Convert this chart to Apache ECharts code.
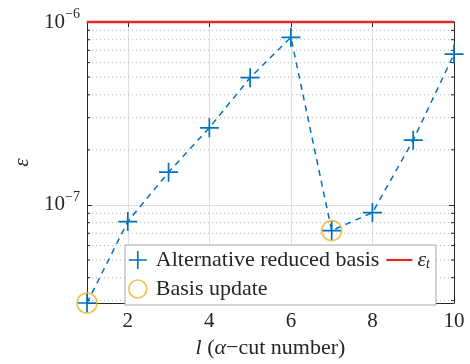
<!DOCTYPE html>
<html>
<head>
<meta charset="utf-8">
<script src="https://cdn.jsdelivr.net/npm/echarts@6/dist/echarts.min.js"></script>
<style>html,body{margin:0;padding:0;background:#fff}#c{width:470px;height:364px}</style>
</head>
<body>
<div id="c"></div>
<script>
// ---- data ----
const cuts = [1, 2, 3, 4, 5, 6, 7, 8, 9, 10];
const altReducedBasisErr = [2.91e-8, 8.11e-8, 1.51e-7, 2.64e-7, 4.96e-7, 8.25e-7, 7.24e-8, 9.08e-8, 2.26e-7, 6.68e-7];
const basisUpdateCuts = [1, 7];
const epsT = 1e-6;
const yMin = 2.91e-8;
const yMax = 1e-6;
const minorGridValues = [3e-8, 4e-8, 5e-8, 6e-8, 7e-8, 8e-8, 9e-8, 2e-7, 3e-7, 4e-7, 5e-7, 6e-7, 7e-7, 8e-7, 9e-7];

const FONT = '"Liberation Serif"';
const INK = '#262626';
const BLUE = '#0072BD';
const ORANGE = '#EDB120';
const RED = '#e4282a';
const PLUS = 'path://M0,9.1H20V10.9H0Z M9.1,0H10.9V20H9.1Z';

const chart = echarts.init(document.getElementById('c'), null, {renderer: 'canvas'});

function isPow10(v) {
  const l = Math.log10(v);
  return Math.abs(l - Math.round(l)) < 1e-6;
}

const option = {
  animation: false,
  backgroundColor: '#fff',
  grid: {left: 87, right: 16, top: 22, bottom: 61},
  legend: {
    left: 125, top: 245, width: 305,
    orient: 'horizontal',
    padding: [4, 6, 5, 3],
    itemGap: 7,
    itemWidth: 26, itemHeight: 18,
    backgroundColor: '#fff',
    borderColor: '#a8a8a8', borderWidth: 1, borderRadius: 0,
    textStyle: {fontFamily: FONT, fontSize: 22, lineHeight: 18, color: INK,
      rich: {
        i: {fontFamily: FONT, fontStyle: 'italic', fontSize: 22, color: INK, verticalAlign: 'middle', lineHeight: 18},
        sub: {fontFamily: FONT, fontStyle: 'italic', fontSize: 14, color: INK, verticalAlign: 'middle', lineHeight: 10, padding: [8, 0, 0, 0]}
      }
    },
    formatter: function (name) {
      if (name === 'eps_t') return '{i|ε}{sub|t}';
      return name;
    },
    data: [
      {name: 'Alternative reduced basis', icon: PLUS, itemStyle: {color: BLUE, borderWidth: 0}},
      {name: 'eps_t', icon: 'path://M0,0H26V2.2H0Z', itemStyle: {color: RED, borderWidth: 0}},
      {name: 'Basis update', icon: 'circle', itemStyle: {color: 'rgba(0,0,0,0)', borderColor: ORANGE, borderWidth: 1.6}}
    ]
  },
  xAxis: [{
    type: 'value', min: 1, max: 10, position: 'bottom',
    axisLine: {lineStyle: {color: INK, width: 1}},
    axisTick: {inside: true, length: 5, lineStyle: {color: INK}},
    axisLabel: {formatter: v => (v % 2 === 0 ? String(v) : ''), fontFamily: FONT, fontSize: 21, color: INK, margin: 8},
    splitLine: {show: true, lineStyle: {color: '#dedede', width: 1}},
    name: '{i|l} ({i|α}−cut number)',
    nameLocation: 'middle', nameGap: 34,
    nameTextStyle: {fontFamily: FONT, fontSize: 22, color: INK,
      rich: {i: {fontFamily: FONT, fontStyle: 'italic', fontSize: 22, color: INK}}}
  }, {
    type: 'value', min: 1, max: 10, position: 'top',
    axisLine: {lineStyle: {color: INK, width: 1}},
    axisTick: {inside: true, length: 5, lineStyle: {color: INK}},
    axisLabel: {show: false},
    splitLine: {show: false}
  }],
  yAxis: [{
    type: 'log', logBase: 10, min: yMin, max: yMax, position: 'left',
    axisLine: {show: true, lineStyle: {color: INK, width: 1}},
    axisTick: {show: true, inside: true, length: 5, lineStyle: {color: INK}},
    axisLabel: {
      formatter: function (v) {
        if (!isPow10(v)) return '';
        return '{b|10}{s|−' + Math.abs(Math.round(Math.log10(v))) + '}';
      },
      margin: 7,
      rich: {
        b: {fontFamily: FONT, fontSize: 21, color: INK, lineHeight: 21, verticalAlign: 'middle'},
        s: {fontFamily: FONT, fontSize: 14, color: INK, lineHeight: 14, verticalAlign: 'middle', padding: [0, 0, 16, 0]}
      }
    },
    splitLine: {show: true, lineStyle: {color: '#dedede', width: 1}},
    name: 'ε', nameLocation: 'middle', nameRotate: 90, nameGap: 54,
    nameTextStyle: {fontFamily: FONT, fontSize: 21, fontStyle: 'italic', color: INK}
  }, {
    type: 'log', logBase: 10, min: yMin, max: yMax, position: 'right',
    axisLine: {show: true, lineStyle: {color: INK, width: 1}},
    axisTick: {show: true, inside: true, length: 5, lineStyle: {color: INK}},
    axisLabel: {show: false},
    splitLine: {show: false}
  }],
  series: [{
    name: 'minorGrid',
    type: 'custom',
    xAxisIndex: 0, yAxisIndex: 0,
    silent: true, z: 1, clip: false,
    data: minorGridValues.map(v => [1, v]),
    renderItem: function (params, api) {
      const v = api.value(1);
      const a = api.coord([1, v]);
      const b = api.coord([10, v]);
      return {
        type: 'group',
        children: [
          {type: 'line', shape: {x1: a[0] + 1, y1: a[1], x2: b[0] - 1, y2: b[1]},
           style: {stroke: '#b4b4b4', lineWidth: 1, lineDash: [1, 3]}},
          {type: 'line', shape: {x1: a[0], y1: a[1], x2: a[0] + 3, y2: a[1]},
           style: {stroke: INK, lineWidth: 1}},
          {type: 'line', shape: {x1: b[0] - 3, y1: b[1], x2: b[0], y2: b[1]},
           style: {stroke: INK, lineWidth: 1}}
        ]
      };
    }
  }, {
    name: 'Alternative reduced basis',
    type: 'line',
    xAxisIndex: 0, yAxisIndex: 0,
    data: cuts.map((c, i) => [c, altReducedBasisErr[i]]),
    symbol: PLUS, symbolSize: 19,
    itemStyle: {color: BLUE, borderWidth: 0},
    lineStyle: {color: BLUE, width: 1.5, type: [6, 5]},
    clip: false, z: 4
  }, {
    name: 'Basis update',
    type: 'scatter',
    xAxisIndex: 0, yAxisIndex: 0,
    data: basisUpdateCuts.map(c => [c, altReducedBasisErr[cuts.indexOf(c)]]),
    symbol: 'circle', symbolSize: 20,
    itemStyle: {color: 'rgba(0,0,0,0)', borderColor: ORANGE, borderWidth: 1.6},
    clip: false, z: 5
  }, {
    name: 'eps_t',
    type: 'line',
    xAxisIndex: 0, yAxisIndex: 0,
    data: [[cuts[0], epsT], [cuts[cuts.length - 1], epsT]],
    showSymbol: false, symbol: 'none',
    lineStyle: {color: RED, width: 2.5},
    itemStyle: {color: RED},
    clip: false, z: 6
  }]
};
chart.setOption(option);
</script>
</body>
</html>
